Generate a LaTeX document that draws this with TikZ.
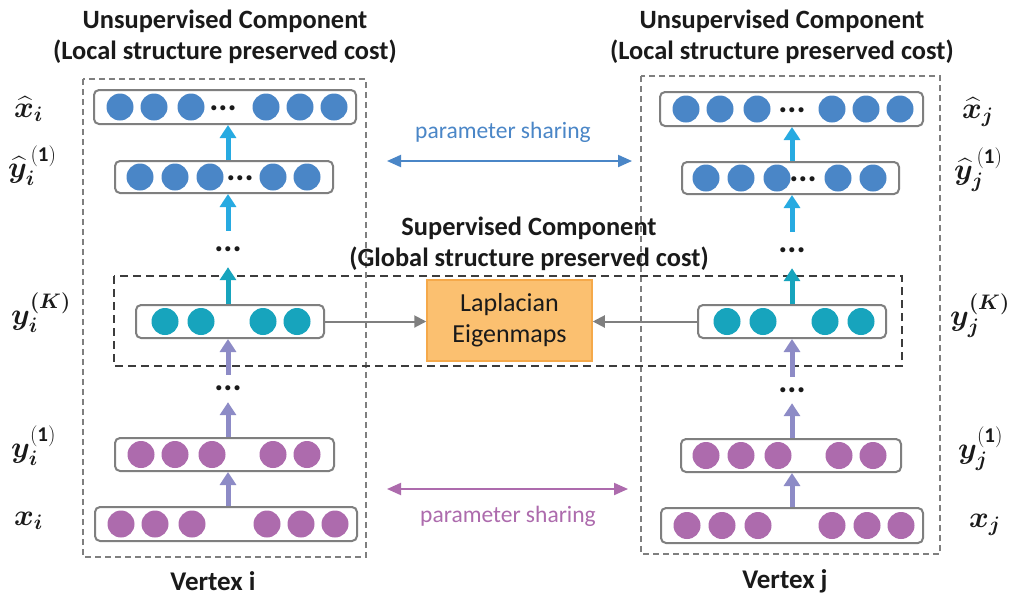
\RequirePackage{fix-cm}
\documentclass[tikz,border=0pt]{standalone}
\usepackage{amsmath,bm}
\usepackage{fontspec}
\setmainfont{Carlito}
\usetikzlibrary{arrows.meta}
\definecolor{cblue}{HTML}{4A86C7}
\definecolor{ccyan}{HTML}{27AAE1}
\definecolor{cteal}{HTML}{17A4BD}
\definecolor{cpurp}{HTML}{AD6BAD}
\definecolor{carr}{HTML}{8D8BC6}
\definecolor{cgray}{HTML}{7F7F7F}
\definecolor{labfill}{HTML}{FBC070}
\definecolor{labdraw}{HTML}{F5A94A}
\definecolor{txt}{HTML}{1A1A1A}
\tikzset{
  rowbox/.style={draw=cgray, line width=2pt, rounded corners=5pt, fill=white, inner sep=0pt},
  dotc/.style={circle, inner sep=0pt, minimum size=27pt, fill=#1},
  dotstxt/.style={inner sep=0pt, font=\fontsize{34}{34}\selectfont\bfseries, text=txt},
  vdots/.style={inner sep=0pt, minimum width=30pt, font=\fontsize{34}{34}\selectfont\bfseries, text=txt},
  uparr/.style={line width=5pt, draw=#1, -{Triangle[width=16pt,length=13pt,fill=#1]}},
  grayarr/.style={line width=2pt, draw=cgray, -{Triangle[width=12pt,length=12pt,fill=cgray]}},
  sharearr/.style={line width=2pt, draw=#1, {Triangle[width=12pt,length=14pt,fill=#1]}-{Triangle[width=12pt,length=14pt,fill=#1]}},
  title/.style={align=center, font=\fontsize{26.4}{31}\selectfont\bfseries, text=txt, inner sep=0pt},
  lab/.style={inner sep=0pt, anchor=base west, font=\fontsize{30}{30}\selectfont, text=txt},
  outerbox/.style={draw=cgray, line width=1.2pt, dash pattern=on 6pt off 4pt},
  supbox/.style={draw=txt!85, line width=1.6pt, dash pattern=on 8pt off 5pt},
}
\begin{document}
\begin{tikzpicture}[x=1pt,y=-1pt]
\useasboundingbox[fill=white] (0,0) rectangle (1012,598);

% dashed boxes
\draw[outerbox] (83,79) rectangle (366,557);
\draw[outerbox] (641,76) rectangle (940,554);
\draw[supbox] (114,276) rectangle (902,366);

% titles
\node[title] (tl) at (225,37) {Unsupervised Component\\(Local structure preserved cost)};
\node[title] (tr) at (782,37) {Unsupervised Component\\(Local structure preserved cost)};
\node[title] (ts) at (529,244) {Supervised Component\\(Global structure preserved cost)};

% ---------------- left column ----------------
\node[rowbox, minimum width=262pt, minimum height=34pt] (L1) at (225,107) {};
\foreach \x [count=\k] in {120,154,191,266,300,334} \node[dotc=cblue] (L1c\k) at (\x,107) {};
\node[dotstxt] (L1d) at (223,108) {...};

\node[rowbox, minimum width=218pt, minimum height=32pt] (L2) at (224,177) {};
\foreach \x [count=\k] in {140,175,273,307} \node[dotc=cblue] (L2c\k) at (\x,177) {};
\node[dotstxt] (L2d) at (240,178) {...};
\node[dotc=cblue] (L2c5) at (210,177) {};

\node[rowbox, minimum width=188pt, minimum height=33pt] (LK) at (230,321.5) {};
\foreach \x [count=\k] in {165,201,263,297} \node[dotc=cteal] (LKc\k) at (\x,321.5) {};

\node[rowbox, minimum width=219pt, minimum height=33pt] (Ly) at (224.5,454.5) {};
\foreach \x [count=\k] in {141,175,212,273,307} \node[dotc=cpurp] (Lyc\k) at (\x,454.5) {};

\node[rowbox, minimum width=262pt, minimum height=34pt] (Lx) at (226,524) {};
\foreach \x [count=\k] in {121,155,192,267,301,335} \node[dotc=cpurp] (Lxc\k) at (\x,524) {};

\node[vdots, minimum height=36pt] (LdA) at (228,249) {...};
\node[vdots, minimum height=27pt] (LdB) at (228,388.5) {...};

\draw[uparr=carr] (Lx.north -| LdB) -- (Ly.south -| LdB);
\draw[uparr=carr] (Ly.north -| LdB) -- (LdB.south);
\draw[uparr=carr] (LdB.north) -- (LK.south -| LdB);
\draw[uparr=cteal] (LK.north -| LdA) -- (LdA.south);
\draw[uparr=ccyan] (LdA.north) -- (L2.south -| LdA);
\draw[uparr=ccyan] (L2.north -| LdA) -- (L1.south -| LdA);

% ---------------- right column ----------------
\node[rowbox, minimum width=263pt, minimum height=34pt] (R1) at (791.5,109) {};
\foreach \x [count=\k] in {686,720,757,832,866,900} \node[dotc=cblue] (R1c\k) at (\x,109) {};
\node[dotstxt] (R1d) at (792,110) {...};

\node[rowbox, minimum width=217pt, minimum height=32pt] (R2) at (790.5,178) {};
\foreach \x [count=\k] in {706,741,838,873} \node[dotc=cblue] (R2c\k) at (\x,178) {};
\node[dotstxt] (R2d) at (803,179) {...};
\node[dotc=cblue] (R2c5) at (777,178) {};

\node[rowbox, minimum width=188pt, minimum height=33pt] (RK) at (792,321.5) {};
\foreach \x [count=\k] in {727,763,825,861} \node[dotc=cteal] (RKc\k) at (\x,321.5) {};

\node[rowbox, minimum width=220pt, minimum height=33pt] (Ry) at (791,455.5) {};
\foreach \x [count=\k] in {706,741,778,839,873} \node[dotc=cpurp] (Ryc\k) at (\x,455.5) {};

\node[rowbox, minimum width=262pt, minimum height=35pt] (Rx) at (792,525.5) {};
\foreach \x [count=\k] in {687,722,758,832,867,901} \node[dotc=cpurp] (Rxc\k) at (\x,525.5) {};

\node[vdots, minimum height=36pt] (RdA) at (792,250) {...};
\node[vdots, minimum height=26pt] (RdB) at (792,390) {...};

\draw[uparr=carr] (Rx.north -| RdB) -- (Ry.south -| RdB);
\draw[uparr=carr] (Ry.north -| RdB) -- (RdB.south);
\draw[uparr=carr] (RdB.north) -- (RK.south -| RdB);
\draw[uparr=cteal] (RK.north -| RdA) -- (RdA.south);
\draw[uparr=ccyan] (RdA.north) -- (R2.south -| RdA);
\draw[uparr=ccyan] (R2.north -| RdA) -- (R1.south -| RdA);

% ---------------- centre ----------------
\node[draw=labdraw, fill=labfill, line width=1.5pt, minimum width=165pt, minimum height=81pt,
      align=center, font=\fontsize{26}{31}\selectfont, text=txt] (lap) at (509.5,320.5) {Laplacian\\Eigenmaps};
\draw[grayarr] (LK.east) -- (LK.east -| lap.west);
\draw[grayarr] (RK.west) -- (RK.west -| lap.east);

\coordinate (psA) at (387,161);
\coordinate (psB) at (632,161);
\draw[sharearr=cblue] (psA) -- (psB);
\node[font=\fontsize{23.5}{28}\selectfont, text=cblue, inner sep=0pt] (psT) at (503,132) {parameter sharing};

\coordinate (psC) at (387,489);
\coordinate (psD) at (628,489);
\draw[sharearr=cpurp] (psC) -- (psD);
\node[font=\fontsize{23.5}{28}\selectfont, text=cpurp, inner sep=0pt] (psU) at (508,516) {parameter sharing};

% vertex labels
\node[font=\fontsize{27}{30}\selectfont\bfseries, text=txt, inner sep=0pt] (vi) at (213,581) {Vertex i};
\node[font=\fontsize{27}{30}\selectfont\bfseries, text=txt, inner sep=0pt] (vj) at (785,581) {Vertex j};

% math labels
\node[lab] (lx1) at (14,117) {$\widehat{\bm{x}}_{\bm{i}}$};
\node[lab] (ly2) at (8,177) {$\widehat{\bm{y}}_{\bm{i}}^{\,\mathbf{(1)}}$};
\node[lab] (lyK) at (11,324) {$\bm{y}_{\bm{i}}^{\bm{(K)}}$};
\node[lab] (ly1) at (11,457) {$\bm{y}_{\bm{i}}^{\mathbf{(1)}}$};
\node[lab] (lx) at (14,525) {$\bm{x}_{\bm{i}}$};

\node[lab] (rx1) at (962,118) {$\widehat{\bm{x}}_{\bm{j}}$};
\node[lab] (ry2) at (954,179) {$\widehat{\bm{y}}_{\bm{j}}^{\,\mathbf{(1)}}$};
\node[lab] (ryK) at (950,325) {$\bm{y}_{\bm{j}}^{\bm{(K)}}$};
\node[lab] (ry1) at (958,458) {$\bm{y}_{\bm{j}}^{\mathbf{(1)}}$};
\node[lab] (rx) at (969,527) {$\bm{x}_{\bm{j}}$};
\end{tikzpicture}
\end{document}
